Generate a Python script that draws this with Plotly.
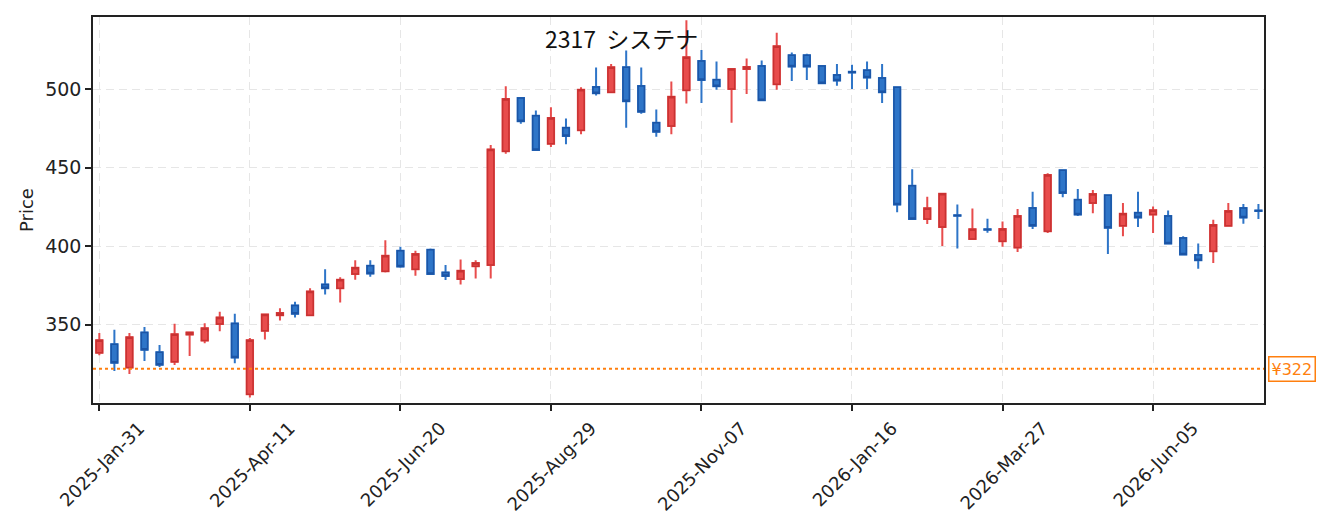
import plotly.graph_objects as go
import pandas as pd

# weekly candles for 2317 システナ
dates = pd.date_range("2025-01-31", periods=78, freq="7D")

opens = [332.1, 337.5, 322.8, 345.1, 332.5, 326.4, 343.7, 339.9, 350.4, 350.8,
         305.7, 346.2, 356.1, 362.2, 356.1, 375.7, 373.2, 382.3, 387.6, 384.0,
         397.1, 385.4, 397.7, 383.3, 379.1, 387.3, 388.0, 460.5, 494.5, 483.1,
         465.4, 475.5, 474.0, 501.5, 498.1, 514.1, 502.1, 478.7, 476.6, 499.4,
         518.1, 506.1, 500.2, 512.9, 514.8, 503.2, 521.7, 521.7, 514.8, 509.1,
         511.2, 512.2, 507.2, 501.3, 438.6, 417.3, 412.2, 419.8, 404.6, 410.9,
         403.2, 399.2, 424.3, 409.5, 448.5, 429.7, 427.6, 432.5, 413.1, 421.3,
         420.3, 419.2, 405.3, 394.5, 396.8, 413.1, 424.3, 422.8]
highs = [344.7, 346.8, 344.7, 348.5, 337.1, 350.6, 345.1, 351.0, 358.2, 356.9,
         341.6, 356.5, 360.5, 364.6, 373.2, 385.4, 380.2, 391.1, 391.1, 403.8,
         399.6, 397.2, 398.5, 388.0, 391.5, 391.1, 464.5, 501.9, 494.5, 486.5,
         488.6, 481.4, 501.3, 513.9, 516.2, 524.7, 513.9, 487.1, 505.0, 544.1,
         525.1, 517.7, 512.9, 519.6, 518.3, 536.1, 523.4, 522.6, 514.8, 516.2,
         515.6, 517.7, 516.2, 501.3, 449.1, 431.6, 433.5, 426.6, 424.0, 417.5,
         415.8, 423.8, 434.8, 446.6, 448.5, 436.5, 435.9, 432.5, 427.6, 434.8,
         425.3, 422.8, 406.3, 401.7, 416.9, 427.6, 427.0, 427.0]
lows = [330.6, 320.5, 318.6, 326.8, 323.0, 324.3, 330.0, 338.2, 345.8, 325.5,
        303.6, 340.5, 352.7, 354.6, 356.1, 369.2, 364.1, 378.7, 380.6, 383.3,
        386.3, 381.2, 382.3, 378.5, 375.7, 379.5, 379.5, 459.0, 478.0, 461.4,
        463.3, 465.0, 471.3, 496.0, 498.1, 475.5, 484.4, 469.8, 471.3, 490.9,
        491.3, 499.8, 478.7, 497.0, 493.0, 499.8, 505.3, 505.9, 503.8, 502.3,
        500.2, 500.2, 491.3, 421.7, 417.3, 414.1, 400.2, 398.5, 404.6, 408.6,
        399.6, 396.4, 411.0, 408.4, 431.2, 419.2, 421.1, 395.0, 406.3, 412.2,
        408.4, 401.7, 394.7, 385.6, 389.4, 413.1, 414.3, 417.3]
closes = [340.1, 325.7, 342.0, 334.0, 324.5, 343.9, 345.1, 347.7, 354.6, 329.1,
          340.1, 356.5, 357.4, 356.9, 371.1, 373.2, 378.7, 386.3, 382.7, 393.9,
          387.1, 395.1, 382.3, 381.0, 384.4, 389.4, 461.6, 493.9, 479.7, 461.4,
          481.8, 470.2, 499.8, 497.5, 514.1, 492.4, 485.7, 473.0, 495.3, 520.5,
          505.9, 501.9, 512.9, 514.3, 493.0, 527.4, 514.6, 514.6, 503.8, 505.7,
          510.8, 507.6, 498.1, 426.6, 417.3, 424.2, 433.5, 419.4, 410.9, 410.5,
          411.0, 419.2, 413.1, 445.4, 434.0, 420.3, 433.3, 411.8, 420.7, 418.3,
          423.0, 401.7, 394.7, 391.1, 413.5, 422.4, 418.3, 422.4]

ref_price = 322
title = "2317\u00a0\u00a0システナ"

UP, UP_EDGE = "#E84C4C", "#C93232"
DN, DN_EDGE = "#2E75C8", "#1B55A6"
FONT = "DejaVu Sans"

body_top = [max(o, c) for o, c in zip(opens, closes)]
body_bot = [min(o, c) for o, c in zip(opens, closes)]

fig = go.Figure()
# wicks (same colour as the fill)
fig.add_trace(go.Candlestick(
    x=dates, open=opens, high=highs, low=lows, close=closes,
    increasing=dict(line=dict(color=UP, width=2), fillcolor=UP),
    decreasing=dict(line=dict(color=DN, width=2), fillcolor=DN),
    hoverinfo="skip", showlegend=False))
# bodies with darker edge
fig.add_trace(go.Candlestick(
    x=dates, open=opens, high=body_top, low=body_bot, close=closes,
    increasing=dict(line=dict(color=UP_EDGE, width=1.5), fillcolor=UP),
    decreasing=dict(line=dict(color=DN_EDGE, width=1.5), fillcolor=DN),
    showlegend=False))

fig.add_hline(y=ref_price, line=dict(color="#FF7F0E", width=2, dash="dot"))

fig.add_annotation(x=1, xref="paper", xanchor="left", xshift=4,
                   y=ref_price, yref="y", text="¥%d" % ref_price, showarrow=False,
                   font=dict(family=FONT, size=16, color="#FF7F0E"),
                   bordercolor="#FF7F0E", borderwidth=1.5, borderpad=2, bgcolor="white")

fig.add_annotation(x=0.451, xref="paper", y=0.945, yref="paper", text=title,
                   showarrow=False, xanchor="center", yanchor="middle",
                   font=dict(family="Noto Sans CJK JP", size=23, color="#111"))

week = pd.Timedelta(days=7)
axis_style = dict(
    showline=True, linecolor="#222", linewidth=1.5, mirror=True,
    ticks="outside", ticklen=6, tickwidth=1.5, tickcolor="#222",
    showgrid=True, gridcolor="#E6E6E6", griddash="8px,5px", gridwidth=1.3,
    zeroline=False)
fig.update_xaxes(
    type="date", range=[dates[0] - 0.42 * week, dates[-1] + 0.37 * week],
    tickvals=dates[::10], tickformat="%Y-%b-%d", tickangle=-45, ticklabelshift=40,
    tickfont=dict(family=FONT, size=18, color="#222"),
    rangeslider=dict(visible=False), **axis_style)
fig.update_yaxes(
    range=[300.1, 546.1], tickvals=[350, 400, 450, 500],
    tickfont=dict(family=FONT, size=19, color="#222"),
    title=dict(text="Price", standoff=7, font=dict(family=FONT, size=18, color="#222")),
    **axis_style)

fig.update_layout(
    width=1329, height=532, boxgap=0.4,
    margin=dict(l=85, r=73, t=7, b=137),
    plot_bgcolor="white", paper_bgcolor="white")

fig.write_html("out.html")
